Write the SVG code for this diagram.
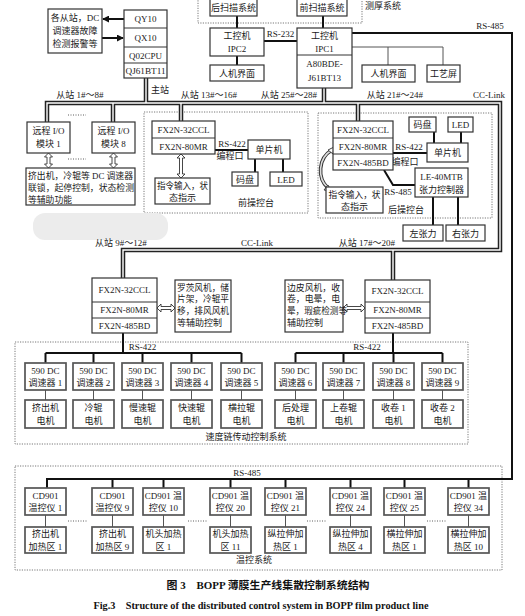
<svg xmlns="http://www.w3.org/2000/svg" width="525" height="616" viewBox="0 0 525 616">
<defs>
<style>
.b{fill:#fff;stroke:#333;stroke-width:1.2}
.g{fill:#fff;stroke:#555;stroke-width:1.7}
.d{fill:none;stroke:#555;stroke-width:0.8;stroke-dasharray:1.2 1.3}
.t{font-family:"Liberation Serif","Noto Sans CJK SC",serif;font-size:9px;fill:#1a1a1a;text-anchor:middle}
.l{text-anchor:start}
.s{font-size:8.8px}
.k{fill:none;stroke:#111;stroke-width:2}
.n{fill:none;stroke:#555;stroke-width:1}
.bo{fill:none;stroke:#222;stroke-width:4.5}
.bi{fill:none;stroke:#fff;stroke-width:1.4}
.ha{fill:#fff;stroke:#333;stroke-width:0.9}
.dots{fill:none;stroke:#333;stroke-width:0.8;stroke-dasharray:1 1.5}
.cap{font-family:"Liberation Serif","Noto Sans CJK SC",serif;font-weight:bold;fill:#111;text-anchor:middle}
</style>
<marker id="ah" viewBox="0 0 8 8" refX="7" refY="4" markerWidth="7" markerHeight="7" markerUnits="userSpaceOnUse" orient="auto">
<path d="M0,0 L8,4 L0,8 Z" fill="#111"/>
</marker>
</defs>
<rect width="525" height="616" fill="#fff"/>

<!-- regions -->
<g id="regions">
<rect class="d" x="198" y="-5" width="164" height="28"/>
<rect class="d" x="144" y="112" width="164" height="101"/>
<rect class="d" x="318" y="113" width="174" height="105"/>
<rect class="d" x="15" y="342" width="453" height="102"/>
<rect class="d" x="15" y="466" width="487" height="104"/>
<rect x="33" y="213" width="135" height="27" rx="12" fill="#ececec"/>
<text class="t l" x="365" y="9">测厚系统</text>
<text class="t" x="256" y="206">前操控台</text>
<text class="t" x="406" y="213">后操控台</text>
<text class="t" x="246" y="440">速度链传动控制系统</text>
<text class="t" x="254" y="563">温控系统</text>
</g>

<!-- connectors -->
<g id="connectors">
<g id="buses">
<path class="bo" d="M47,122 V103 H500 V250 H123 V278 M113,103 V122 M146,78 V103 M181,103 V121 M324,88 V103 M358,103 V121 M393,250 V280"/>
<path class="bi" d="M47,122 V103 H500 V250 H123 V278 M113,103 V122 M146,78 V103 M181,103 V121 M324,88 V103 M358,103 V121 M393,250 V280"/>
</g>
<path class="k" d="M352,33 H512 V479 H47 V488 M112.5,479 V488 M163.5,479 V488 M230.5,479 V488 M285.5,479 V488 M350.5,479 V488 M404.5,479 V488 M468.5,479 V488"/>
<path class="k" d="M237,16 V28 M323,16 V28 M264,41 H297 M237,56 V65"/>
<path class="n" d="M352,47 H443 M388,47 V65 M443,47 V65"/>
<line class="k" x1="124" y1="19" x2="103" y2="19" stroke-width="1.5" marker-end="url(#ah)"/>
<line class="k" x1="102" y1="38" x2="123" y2="38" stroke-width="1.5" marker-end="url(#ah)"/>
<path class="k" d="M215,150 H248 M255,159 V172 M283,159 V172"/>
<path class="k" d="M393,153 H427 M434,132 V143 M461,132 V143 M433,197 V225 M458,197 V225 M384,170 L393,185 H415"/>
<path class="k" d="M123,333 V353 M45.5,353 H241.5 M45.5,353 V363 M93.5,353 V363 M142.5,353 V363 M191.5,353 V363 M241.5,353 V363"/>
<path class="k" d="M393,333 V353 M295.5,353 H442.5 M295.5,353 V363 M343.5,353 V363 M393.5,353 V363 M442.5,353 V363"/>
<path class="n" d="M45.5,390 V400 M93.5,390 V400 M142.5,390 V400 M191.5,390 V400 M241.5,390 V400 M295.5,390 V400 M343.5,390 V400 M393.5,390 V400 M442.5,390 V400"/>
<path class="n" d="M45.5,515 V527 M112.5,515 V527 M163.5,515 V527 M230.5,515 V527 M285.5,515 V527 M350.5,515 V527 M404.5,515 V527 M468.5,515 V527"/>
<path class="ha" d="M48.5,153 l4,4 h-2.5 V164 h2.5 l-4,4 l-4,-4 h2.5 V157 h-2.5 z"/>
<path class="ha" d="M113.5,153 l4,4 h-2.5 V164 h2.5 l-4,4 l-4,-4 h2.5 V157 h-2.5 z"/>
<path class="ha" d="M181,154 l4,4 h-2.5 V174 h2.5 l-4,4 l-4,-4 h2.5 V158 h-2.5 z"/>
<path class="ha" d="M157,308 l4,-4 v2.5 H171 v-2.5 l4,4 l-4,4 v-2.5 H161 v2.5 z"/>
<path class="ha" d="M343,308 l4,-4 v2.5 H361 v-2.5 l4,4 l-4,4 v-2.5 H347 v2.5 z"/>
<path d="M332,150 C318,158 317,178 328,188" fill="none" stroke="#333" stroke-width="3.6"/>
<path d="M332,150 C318,158 317,178 328,188" fill="none" stroke="#ddd" stroke-width="1.6"/>
<path class="ha" d="M334,147 l-1,7 l-5,-4 z"/>
<path class="ha" d="M331,191 l-7,-1 l4,-5 z"/>
<path class="dots" d="M68,115 H86 M68,159 H86 M68,521 H88 M188,521 H207 M307,521 H327 M427,521 H447"/>
<text class="t" x="280.5" y="37">RS-232</text>
<text class="t" x="490" y="29">RS-485</text>
<text class="t l" x="151" y="93">主站</text>
<text class="t" x="80" y="98">从站 1#～8#</text>
<text class="t" x="209" y="98">从站 13#～16#</text>
<text class="t" x="289" y="98">从站 25#～28#</text>
<text class="t" x="395" y="98">从站 21#～24#</text>
<text class="t" x="489" y="98">CC-Link</text>
<text class="t" x="232" y="147">RS-422</text>
<text class="t" x="230" y="159">编程口</text>
<text class="t" x="409" y="150">RS-422</text>
<text class="t" x="405" y="165">编程口</text>
<text class="t" x="398" y="195">RS-485</text>
<text class="t" x="121" y="246">从站 9#～12#</text>
<text class="t" x="257" y="246">CC-Link</text>
<text class="t" x="367" y="246">从站 17#～20#</text>
<text class="t" x="142.5" y="350">RS-422</text>
<text class="t" x="367" y="350">RS-422</text>
<text class="t" x="247" y="476">RS-485</text>
</g>

<!-- top -->
<g id="scan-rear"><rect class="b" x="210" y="-1" width="47" height="17"/><text class="t" x="233.5" y="11">后扫描系统</text></g>
<g id="scan-front"><rect class="b" x="297" y="-1" width="50" height="17"/><text class="t" x="322" y="11">前扫描系统</text></g>
<g id="ipc2"><rect class="b" x="210" y="28" width="54" height="28"/><text class="t" x="237" y="39">工控机</text><text class="t" x="237" y="52">IPC2</text></g>
<g id="ipc1"><rect class="b" x="297" y="28" width="55" height="60"/><line x1="297" y1="55" x2="352" y2="55" stroke="#333"/><text class="t" x="324.5" y="39">工控机</text><text class="t" x="324.5" y="52">IPC1</text><text class="t" x="324.5" y="67">A80BDE-</text><text class="t" x="324.5" y="81">J61BT13</text></g>
<g id="hmi2"><rect class="b" x="210" y="65" width="54" height="16"/><text class="t" x="237" y="76.5">人机界面</text></g>
<g id="hmi1"><rect class="b" x="362" y="65" width="53" height="17"/><text class="t" x="388.5" y="77">人机界面</text></g>
<g id="screen"><rect class="b" x="427" y="65" width="33" height="17"/><text class="t" x="443.5" y="77">工艺屏</text></g>
<g id="alarm"><rect class="b" x="48" y="9" width="54" height="44"/><text class="t" x="75" y="21">各从站，DC</text><text class="t" x="75" y="34">调速器故障</text><text class="t" x="75" y="47">检测报警等</text></g>
<g id="master"><rect class="b" x="124" y="10" width="43" height="68"/><path stroke="#333" d="M124,28 H167 M124,47 H167 M124,63 H167"/><text class="t" x="145.5" y="22">QY10</text><text class="t" x="145.5" y="41">QX10</text><text class="t" x="145.5" y="58.5">Q02CPU</text><text class="t" x="145.5" y="74" textLength="40" lengthAdjust="spacingAndGlyphs">QJ61BT11</text></g>

<!-- remote I/O -->
<g id="rio1"><rect class="b" x="27" y="122" width="43" height="31"/><text class="t" x="48.5" y="134">远程 I/O</text><text class="t" x="48.5" y="147">模块 1</text></g>
<g id="rio8"><rect class="b" x="92" y="122" width="43" height="31"/><text class="t" x="113.5" y="134">远程 I/O</text><text class="t" x="113.5" y="147">模块 8</text></g>
<g id="aux1"><rect class="b" x="26" y="168" width="109" height="37"/><text class="t l s" x="28" y="179" textLength="105" lengthAdjust="spacingAndGlyphs">挤出机，冷辊等 DC 调速器</text><text class="t l s" x="28" y="191" textLength="106" lengthAdjust="spacingAndGlyphs">联锁，起停控制，状态检测</text><text class="t l s" x="28" y="203">等辅助功能</text></g>

<!-- front console -->
<g id="front-plc"><rect class="b" x="152" y="121" width="63" height="33"/><line x1="152" y1="138" x2="215" y2="138" stroke="#333"/><text class="t" x="183.5" y="133">FX2N-32CCL</text><text class="t" x="183.5" y="150">FX2N-80MR</text></g>
<g id="front-mcu"><rect class="b" x="248" y="140" width="42" height="19"/><text class="t" x="269" y="153">单片机</text></g>
<g id="front-enc"><rect class="b" x="232" y="172" width="26" height="14"/><text class="t" x="245" y="182.5">码盘</text></g>
<g id="front-led"><rect class="b" x="270" y="172" width="32" height="14"/><text class="t" x="286" y="182.5">LED</text></g>
<g id="front-cmd"><rect class="b" x="155" y="178" width="55" height="26"/><text class="t" x="182.5" y="189" textLength="51" lengthAdjust="spacingAndGlyphs">指令输入，状</text><text class="t" x="182.5" y="201">态指示</text></g>

<!-- rear console -->
<g id="rear-plc"><rect class="b" x="333" y="121" width="60" height="49"/><path stroke="#333" d="M333,138 H393 M333,154 H393"/><text class="t" x="363" y="133">FX2N-32CCL</text><text class="t" x="363" y="150">FX2N-80MR</text><text class="t" x="363" y="166">FX2N-485BD</text></g>
<g id="rear-enc"><rect class="b" x="409" y="117" width="27" height="15"/><text class="t" x="422.5" y="128">码盘</text></g>
<g id="rear-led"><rect class="b" x="448" y="117" width="25" height="15"/><text class="t" x="460.5" y="128">LED</text></g>
<g id="rear-mcu"><rect class="b" x="427" y="143" width="41" height="19"/><text class="t" x="447.5" y="156">单片机</text></g>
<g id="tension"><rect class="b" x="415" y="168" width="53" height="29"/><text class="t" x="441.5" y="180">LE-40MTB</text><text class="t" x="441.5" y="193">张力控制器</text></g>
<g id="t-left"><rect class="b" x="403" y="225" width="40" height="16"/><text class="t" x="423" y="237">左张力</text></g>
<g id="t-right"><rect class="b" x="446" y="225" width="39" height="16"/><text class="t" x="465.5" y="237">右张力</text></g>
<g id="rear-cmd"><rect class="b" x="326" y="187" width="57" height="26"/><text class="t" x="354.5" y="198" textLength="52" lengthAdjust="spacingAndGlyphs">指令输入，状</text><text class="t" x="354.5" y="210">态指示</text></g>

<!-- middle -->
<g id="plc-9"><rect class="b" x="92" y="278" width="65" height="55"/><path stroke="#333" d="M92,302 H157 M92,318 H157"/><text class="t" x="124.5" y="293">FX2N-32CCL</text><text class="t" x="124.5" y="313">FX2N-80MR</text><text class="t" x="124.5" y="329">FX2N-485BD</text></g>
<g id="aux2"><rect class="b" x="175" y="280" width="56" height="52"/><text class="t l" x="177" y="290.5" textLength="52" lengthAdjust="spacingAndGlyphs">罗茨风机，储</text><text class="t l" x="177" y="302" textLength="52" lengthAdjust="spacingAndGlyphs">片架，冷辊平</text><text class="t l" x="177" y="314" textLength="52" lengthAdjust="spacingAndGlyphs">移，排风风机</text><text class="t l" x="177" y="326">等辅助控制</text></g>
<g id="aux3"><rect class="b" x="285" y="280" width="58" height="52"/><text class="t l" x="287" y="290.5" textLength="53" lengthAdjust="spacingAndGlyphs">边皮风机，收</text><text class="t l" x="287" y="302" textLength="53" lengthAdjust="spacingAndGlyphs">卷，电晕，电</text><text class="t l" x="287" y="314" textLength="60" lengthAdjust="spacingAndGlyphs">晕，瑕疵检测等</text><text class="t l" x="287" y="326">辅助控制</text></g>
<g id="plc-17"><rect class="b" x="365" y="280" width="65" height="53"/><path stroke="#333" d="M365,302 H430 M365,318 H430"/><text class="t" x="397.5" y="294">FX2N-32CCL</text><text class="t" x="397.5" y="313">FX2N-80MR</text><text class="t" x="397.5" y="329">FX2N-485BD</text></g>

<!-- speed chain -->
<g id="dc1"><rect class="g" x="25" y="363" width="41" height="27"/><text class="t" x="45.5" y="374">590 DC</text><text class="t" x="45.5" y="386">调速器 1</text></g>
<g id="dc2"><rect class="g" x="73" y="363" width="41" height="27"/><text class="t" x="93.5" y="374">590 DC</text><text class="t" x="93.5" y="386">调速器 2</text></g>
<g id="dc3"><rect class="g" x="122" y="363" width="41" height="27"/><text class="t" x="142.5" y="374">590 DC</text><text class="t" x="142.5" y="386">调速器 3</text></g>
<g id="dc4"><rect class="g" x="171" y="363" width="41" height="27"/><text class="t" x="191.5" y="374">590 DC</text><text class="t" x="191.5" y="386">调速器 4</text></g>
<g id="dc5"><rect class="g" x="221" y="363" width="41" height="27"/><text class="t" x="241.5" y="374">590 DC</text><text class="t" x="241.5" y="386">调速器 5</text></g>
<g id="dc6"><rect class="g" x="275" y="363" width="41" height="27"/><text class="t" x="295.5" y="374">590 DC</text><text class="t" x="295.5" y="386">调速器 6</text></g>
<g id="dc7"><rect class="g" x="323" y="363" width="41" height="27"/><text class="t" x="343.5" y="374">590 DC</text><text class="t" x="343.5" y="386">调速器 7</text></g>
<g id="dc8"><rect class="g" x="373" y="363" width="41" height="27"/><text class="t" x="393.5" y="374">590 DC</text><text class="t" x="393.5" y="386">调速器 8</text></g>
<g id="dc9"><rect class="g" x="422" y="363" width="41" height="27"/><text class="t" x="442.5" y="374">590 DC</text><text class="t" x="442.5" y="386">调速器 9</text></g>
<g id="m1"><rect class="g" x="25" y="400" width="41" height="28"/><text class="t" x="45.5" y="411">挤出机</text><text class="t" x="45.5" y="424">电机</text></g>
<g id="m2"><rect class="g" x="73" y="400" width="41" height="28"/><text class="t" x="93.5" y="411">冷辊</text><text class="t" x="93.5" y="424">电机</text></g>
<g id="m3"><rect class="g" x="122" y="400" width="41" height="28"/><text class="t" x="142.5" y="411">慢速辊</text><text class="t" x="142.5" y="424">电机</text></g>
<g id="m4"><rect class="g" x="171" y="400" width="41" height="28"/><text class="t" x="191.5" y="411">快速辊</text><text class="t" x="191.5" y="424">电机</text></g>
<g id="m5"><rect class="g" x="221" y="400" width="41" height="28"/><text class="t" x="241.5" y="411">横拉辊</text><text class="t" x="241.5" y="424">电机</text></g>
<g id="m6"><rect class="g" x="275" y="400" width="41" height="28"/><text class="t" x="295.5" y="411">后处理</text><text class="t" x="295.5" y="424">电机</text></g>
<g id="m7"><rect class="g" x="323" y="400" width="41" height="28"/><text class="t" x="343.5" y="411">上卷辊</text><text class="t" x="343.5" y="424">电机</text></g>
<g id="m8"><rect class="g" x="373" y="400" width="41" height="28"/><text class="t" x="393.5" y="411">收卷 1</text><text class="t" x="393.5" y="424">电机</text></g>
<g id="m9"><rect class="g" x="422" y="400" width="41" height="28"/><text class="t" x="442.5" y="411">收卷 2</text><text class="t" x="442.5" y="424">电机</text></g>

<!-- temperature -->
<g id="cd1"><rect class="g" x="25" y="488" width="41" height="27"/><text class="t" x="45.5" y="499">CD901</text><text class="t" x="45.5" y="511">温控仪 1</text></g>
<g id="cd9"><rect class="g" x="92" y="488" width="41" height="27"/><text class="t" x="112.5" y="499">CD901</text><text class="t" x="112.5" y="511">温控仪 9</text></g>
<g id="cd10"><rect class="g" x="143" y="488" width="41" height="27"/><text class="t" x="163.5" y="499">CD901 温</text><text class="t" x="163.5" y="511">控仪 10</text></g>
<g id="cd20"><rect class="g" x="210" y="488" width="41" height="27"/><text class="t" x="230.5" y="499">CD901 温</text><text class="t" x="230.5" y="511">控仪 20</text></g>
<g id="cd21"><rect class="g" x="265" y="488" width="41" height="27"/><text class="t" x="285.5" y="499">CD901 温</text><text class="t" x="285.5" y="511">控仪 21</text></g>
<g id="cd24"><rect class="g" x="330" y="488" width="41" height="27"/><text class="t" x="350.5" y="499">CD901 温</text><text class="t" x="350.5" y="511">控仪 24</text></g>
<g id="cd25"><rect class="g" x="384" y="488" width="41" height="27"/><text class="t" x="404.5" y="499">CD901 温</text><text class="t" x="404.5" y="511">控仪 25</text></g>
<g id="cd34"><rect class="g" x="448" y="488" width="41" height="27"/><text class="t" x="468.5" y="499">CD901 温</text><text class="t" x="468.5" y="511">控仪 34</text></g>
<g id="h1"><rect class="g" x="25" y="527" width="41" height="26"/><text class="t" x="45.5" y="537">挤出机</text><text class="t" x="45.5" y="550">加热区 1</text></g>
<g id="h9"><rect class="g" x="92" y="527" width="41" height="26"/><text class="t" x="112.5" y="537">挤出机</text><text class="t" x="112.5" y="550">加热区 9</text></g>
<g id="h10"><rect class="g" x="143" y="527" width="41" height="26"/><text class="t" x="163.5" y="537">机头加热</text><text class="t" x="163.5" y="550">区 1</text></g>
<g id="h20"><rect class="g" x="210" y="527" width="41" height="26"/><text class="t" x="230.5" y="537">机头加热</text><text class="t" x="230.5" y="550">区 11</text></g>
<g id="h21"><rect class="g" x="265" y="527" width="41" height="26"/><text class="t" x="285.5" y="537">纵拉伸加</text><text class="t" x="285.5" y="550">热区 1</text></g>
<g id="h24"><rect class="g" x="330" y="527" width="41" height="26"/><text class="t" x="350.5" y="537">纵拉伸加</text><text class="t" x="350.5" y="550">热区 4</text></g>
<g id="h25"><rect class="g" x="384" y="527" width="41" height="26"/><text class="t" x="404.5" y="537">横拉伸加</text><text class="t" x="404.5" y="550">热区 1</text></g>
<g id="h34"><rect class="g" x="448" y="527" width="41" height="26"/><text class="t" x="468.5" y="537">横拉伸加</text><text class="t" x="468.5" y="550">热区 10</text></g>

<g id="caption">
<text class="cap" x="268" y="589" font-size="10.5" textLength="203" lengthAdjust="spacingAndGlyphs">图 3　BOPP 薄膜生产线集散控制系统结构</text>
<text class="cap" x="261" y="609" font-size="9.5" textLength="335" lengthAdjust="spacingAndGlyphs">Fig.3　Structure of the distributed control system in BOPP film product line</text>
</g>
</svg>
